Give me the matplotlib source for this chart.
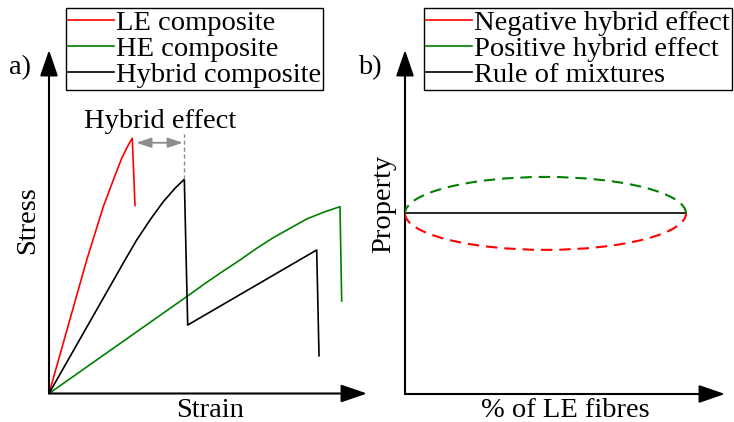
import matplotlib
matplotlib.use('Agg')
import matplotlib.pyplot as plt
from matplotlib.lines import Line2D
from matplotlib.patches import Arc

plt.rcParams['font.family'] = ['Liberation Serif', 'DejaVu Serif']
FS = 20.5
W, H = 734, 422

# ---- panel a) schematic stress-strain curves (normalised units) ----
le_strain = [0, 0.1186, 0.1447, 0.1708, 0.2022, 0.2286, 0.2494, 0.2619, 0.2704]
le_stress = [0, 0.3886, 0.4664, 0.5438, 0.6215, 0.6847, 0.7234, 0.7430, 0.5473]

he_strain = [0, 0.4434, 0.4959, 0.5481, 0.6006, 0.6531, 0.7053, 0.7579,
             0.8104, 0.8626, 0.9151, 0.9204]
he_stress = [0, 0.2888, 0.3237, 0.3566, 0.3886, 0.4227, 0.4536, 0.4809,
             0.5080, 0.5275, 0.5438, 0.2693]

hy_strain = [0, 0.2390, 0.2758, 0.3176, 0.3594, 0.3962, 0.4255, 0.4362,
             0.8418, 0.8491]
hy_stress = [0, 0.3886, 0.4469, 0.5051, 0.5584, 0.5974, 0.6236, 0.1994,
             0.4178, 0.1100]

# hybrid effect marker: LE failure strain -> hybrid first failure strain
he_from, he_to, he_level = 0.270, 0.421, 0.730
he_guide_top = 0.755

# ---- panel b) property vs % LE fibres ----
rom_x = [0, 100]
rom_y = [0.525, 0.525]
effect_height = 0.212  # full height of the +/- hybrid effect envelope

legend_a = ['LE composite', 'HE composite', 'Hybrid composite']
legend_b = ['Negative hybrid effect', 'Positive hybrid effect', 'Rule of mixtures']
RED, GREEN, BLACK, GREY = '#ff0000', '#008000', '#000000', '#8c8c8c'


def fx(px):
    return px / W


def fy(py):
    return 1 - py / H


fig = plt.figure(figsize=(W / 100, H / 100), dpi=100)

axa = fig.add_axes([fx(49), fy(393.5), (367 - 49) / W, (393.5 - 50) / H])
axb = fig.add_axes([fx(405), fy(394), (725 - 405) / W, (394 - 50) / H])

arrow = dict(arrowstyle='-|>,head_length=1.6,head_width=0.55', lw=1.5,
             color='black', shrinkA=0, shrinkB=0, mutation_scale=10)
for ax in (axa, axb):
    ax.set_axis_off()
    ax.set_ylim(0, 1)
    ax.annotate('', xy=(1, 0), xytext=(0, 0), xycoords='axes fraction',
                arrowprops=arrow)
    ax.annotate('', xy=(0, 1), xytext=(0, 0), xycoords='axes fraction',
                arrowprops=arrow)

axa.set_xlim(0, 1)
la, = axa.plot(le_strain, le_stress, color=RED, lw=1.2, label=legend_a[0])
lb, = axa.plot(he_strain, he_stress, color=GREEN, lw=1.2, label=legend_a[1])
lc, = axa.plot(hy_strain, hy_stress, color=BLACK, lw=1.2, label=legend_a[2])
axa.plot([hy_strain[6], hy_strain[6]], [hy_stress[6], he_guide_top],
         color=GREY, lw=1, ls=(0, (3, 2)))
axa.annotate('', xy=(he_to, he_level), xytext=(he_from, he_level),
             arrowprops=dict(arrowstyle='<|-|>,head_length=0.9,head_width=0.3',
                             lw=1.3, color=GREY, shrinkA=1, shrinkB=0,
                             mutation_scale=10))
axa.text(0.349, 0.773, 'Hybrid effect', fontsize=FS, ha='center', va='baseline')

axb.set_xlim(0, 100 * 320 / 281)
axb.plot(rom_x, rom_y, color=BLACK, lw=1.2, zorder=2)
centre = ((rom_x[0] + rom_x[1]) / 2, rom_y[0])
span = rom_x[1] - rom_x[0]
axb.add_patch(Arc(centre, span, effect_height, theta1=0, theta2=180,
                  color=GREEN, lw=1.5, ls=(0, (5.5, 3.3)), zorder=3))
axb.add_patch(Arc(centre, span, effect_height, theta1=180, theta2=360,
                  color=RED, lw=1.5, ls=(0, (5.5, 3.3)), zorder=3))

leg_kw = dict(fontsize=FS, loc='upper left', fancybox=False, edgecolor='black',
              framealpha=1, handlelength=1.6, handletextpad=0.08,
              borderpad=0.07, labelspacing=0.0, borderaxespad=0)
leg = fig.legend(handles=[la, lb, lc], bbox_to_anchor=(fx(66), fy(8)), **leg_kw)
leg.get_frame().set_linewidth(1.0)
proxies = [Line2D([], [], color=c, lw=1.2) for c in (RED, GREEN, BLACK)]
leg2 = fig.legend(handles=proxies, labels=legend_b,
                  bbox_to_anchor=(fx(424), fy(8)), **leg_kw)
leg2.get_frame().set_linewidth(1.0)

fig.text(fx(20), fy(74), 'a)', fontsize=FS, ha='center', va='baseline')
fig.text(fx(370), fy(74), 'b)', fontsize=FS, ha='center', va='baseline')
fig.text(fx(28), fy(220), 'Stress', fontsize=FS, rotation=90,
         ha='center', va='center')
fig.text(fx(210), fy(417), 'Strain', fontsize=FS, ha='center', va='baseline')
fig.text(fx(384), fy(204), 'Property', fontsize=FS, rotation=90,
         ha='center', va='center')
fig.text(fx(565), fy(417), '% of LE fibres', fontsize=FS, ha='center',
         va='baseline')

fig.savefig('out.png', dpi=100, facecolor='white')
